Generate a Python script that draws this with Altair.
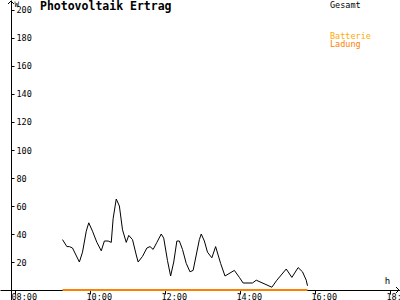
import altair as alt
import pandas as pd

# --- data ---
times = ["09:16","09:23","09:27","09:32","09:43","09:48","09:54","09:58",
         "10:04","10:11","10:18","10:23","10:29","10:34","10:37","10:42","10:47","10:52","10:58",
         "11:02","11:08","11:14","11:17","11:24","11:31","11:36","11:41","11:47","11:54","11:58",
         "12:04","12:09","12:14","12:19","12:23","12:28","12:34","12:40","12:45","12:55","12:58",
         "13:03","13:08","13:15","13:21","13:29","13:36","13:51","13:59",
         "14:05","14:20","14:26","14:51","14:59",
         "15:14","15:23","15:33","15:40","15:46","15:48"]
gesamt = [36,31,31,30,20,27,42,48,
          42,34,28,35,35,34,51,65,60,43,34,
          39,36,25,20,24,30,31,29,34,40,37,
          21,10,20,35,35,29,19,13,14,36,40,
          35,27,23,31,19,10,14,9,
          5,5,7,2,7,
          15,9,16,13,7,3]
batt_times = ["09:16", "15:48"]
batt_values = [0, 0]

x_ticks = [8, 10, 12, 14, 16, 18]
y_ticks = [20, 40, 60, 80, 100, 120, 140, 160, 180, 200]
legend_labels = ["Gesamt", "Batterie", "Ladung"]
legend_colors = ["#000000", "#ffaa00", "#ff8000"]

title_text = "Photovoltaik Ertrag"


def to_hours(t):
    h, m = t.split(":")
    return int(h) + int(m) / 60.0


df = pd.DataFrame({"t": [to_hours(t) for t in times], "v": gesamt})
dfb = pd.DataFrame({"t": [to_hours(t) for t in batt_times], "v": batt_values})
dfl = pd.DataFrame({"label": legend_labels, "color": legend_colors,
                    "row": list(range(len(legend_labels)))})

FONT = "DejaVu Sans Mono"
W, H = 400, 300

xscale = alt.Scale(domain=[7.6, 18.2667], nice=False, zero=False)
yscale = alt.Scale(domain=[-7.14, 207.14], nice=False, zero=False)

xaxis = alt.Axis(values=x_ticks, orient="bottom", offset=-10, domainColor="black",
                 tickColor="black", tickSize=4, labelFontSize=8.5, labelFont=FONT,
                 labelColor="black", labelAlign="left", labelOffset=-4,
                 labelBaseline="top", labelPadding=-2, labelFlush=False,
                 labelOverlap=False, grid=False, title="h", titleFont=FONT,
                 titleFontSize=9, titleFontWeight="normal", titleX=387, titleY=-5,
                 titleAlign="center", titleBaseline="bottom",
                 labelExpr="(datum.value < 10 ? '0' : '') + datum.value + ':00'")
yaxis = alt.Axis(values=y_ticks, orient="right", offset=-(W - 11), domainColor="black",
                 tickColor="black", tickSize=3, labelFontSize=8.5, labelFont=FONT,
                 labelColor="black", labelAlign="left", labelBaseline="middle",
                 labelPadding=2, labelFlush=False, labelOverlap=False, grid=False,
                 title="W", titleFont=FONT, titleFontSize=7.5, titleFontWeight="normal",
                 titleAngle=0, titleX=3, titleY=0, titleAlign="left", titleBaseline="top")

line = alt.Chart(df).mark_line(color="black", strokeWidth=1).encode(
    x=alt.X("t:Q", scale=xscale, axis=xaxis),
    y=alt.Y("v:Q", scale=yscale, axis=yaxis),
)

batt = alt.Chart(dfb).mark_line(color="#ff8000", strokeWidth=2).encode(
    x=alt.X("t:Q", scale=xscale, axis=xaxis),
    y=alt.Y("v:Q", scale=yscale, axis=yaxis),
)

title = alt.Chart(pd.DataFrame({"txt": [title_text]})).mark_text(
    font=FONT, fontSize=11.5, fontWeight="bold", align="left", baseline="middle",
    color="black"
).encode(x=alt.value(40), y=alt.value(7), text="txt:N")

legend = alt.Chart(dfl).mark_text(
    font=FONT, fontSize=8.5, align="left", baseline="middle"
).transform_calculate(
    ypix="datum.row == 0 ? 5 : 27 + 8.5 * datum.row"
).encode(
    x=alt.value(330),
    y=alt.Y("ypix:Q", scale=None, axis=None),
    text="label:N",
    color=alt.Color("color:N", scale=None),
)

arrow_path = "M-1,1L0,0L1,1"
arrow_up = alt.Chart(pd.DataFrame({"a": [0]})).mark_point(
    shape=arrow_path, filled=False, color="black", size=36, strokeWidth=1, opacity=1
).encode(x=alt.value(11), y=alt.value(1))
arrow_right = alt.Chart(pd.DataFrame({"a": [0]})).mark_point(
    shape=arrow_path, filled=False, color="black", size=36, strokeWidth=1, opacity=1,
    angle=90
).encode(x=alt.value(399), y=alt.value(290))

chart = alt.layer(line, batt, title, legend, arrow_up, arrow_right).properties(
    width=W, height=H, autosize=alt.AutoSizeParams(type="none"), padding=0,
    background="white"
).configure_view(stroke=None).configure_axis(labelOverlap=False)

chart.save("out.html", embed_options={"renderer": "svg", "actions": False})
